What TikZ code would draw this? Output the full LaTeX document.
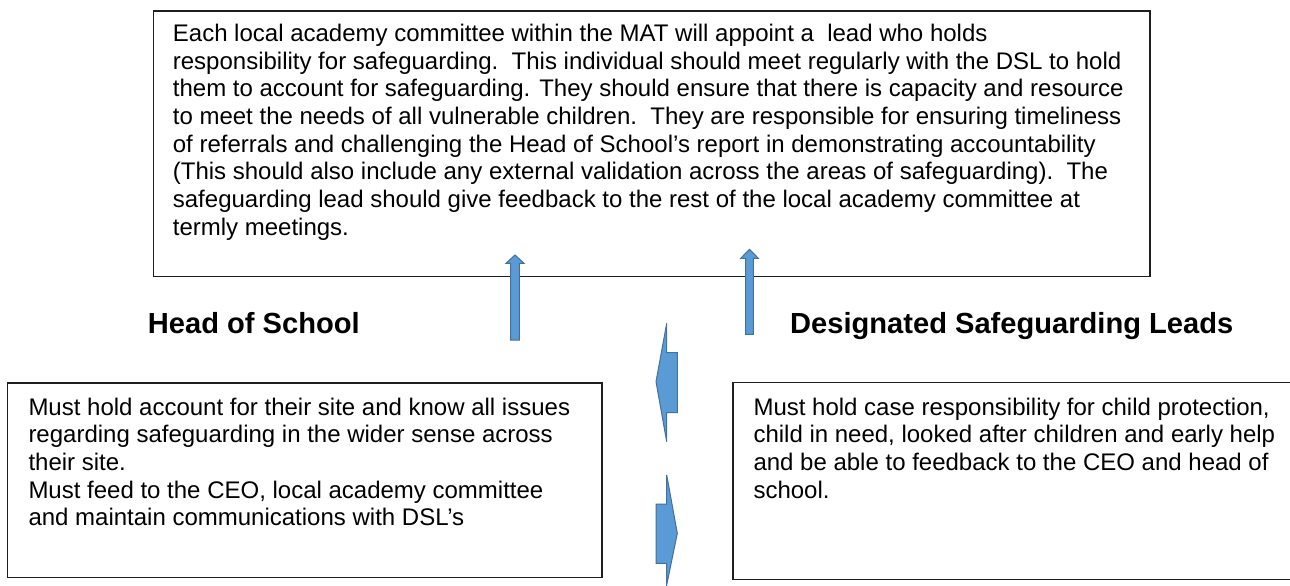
\documentclass[tikz,border=0pt]{standalone}
\usepackage{fontspec}
\setmainfont{Liberation Sans}
\definecolor{arrowfill}{RGB}{91,155,213}
\definecolor{arrowedge}{RGB}{65,113,156}
\definecolor{boxedge}{RGB}{30,30,30}
\tikzset{
  box/.style={draw=boxedge, line width=1.6pt, fill=white, inner sep=0pt},
  bodytext/.style={anchor=north west, inner sep=0pt, align=left, font=\fontsize{24}{27.65}\selectfont},
  headtext/.style={anchor=base west, inner sep=0pt, font=\fontsize{29.1}{33}\selectfont\bfseries},
  blockarrow/.style={fill=arrowfill, draw=arrowedge, line width=1pt, line join=miter}
}
\begin{document}
\begin{tikzpicture}[x=1pt,y=-1pt]
\useasboundingbox (0,0) rectangle (1290,586);
\fill[white] (0,0) rectangle (1290,586);
% boxes
\node[box, minimum width=996.7pt, minimum height=265.5pt] (topbox) at (651.7,143.75) {};
\node[box, minimum width=594.4pt, minimum height=194.6pt] (hosbox) at (304.5,480) {};
\node[box, minimum width=559.3pt, minimum height=197pt] (dslbox) at (1012.35,480.8) {};
% texts
\node[bodytext] (toptext) at (172.7,41.3-19.36) {\strut Each local academy committee within the MAT will appoint a\ \ lead who holds\\
responsibility for safeguarding.\ \ This individual should meet regularly with the DSL to hold\\
them to account for safeguarding. They should ensure that there is capacity and resource\\
to meet the needs of all vulnerable children.\ \ They are responsible for ensuring timeliness\\
of referrals and challenging the Head of School’s report in demonstrating accountability\\
(This should also include any external validation across the areas of safeguarding).\ \ The\\
safeguarding lead should give feedback to the rest of the local academy committee at\\
termly meetings.};
\node[bodytext] (hostext) at (28.3,415-19.36) {\strut Must hold account for their site and know all issues\\
regarding safeguarding in the wider sense across\\
their site.\\
Must feed to the CEO, local academy committee\\
and maintain communications with DSL’s};
\node[bodytext] (dsltext) at (753.3,415-19.36) {\strut Must hold case responsibility for child protection,\\
child in need, looked after children and early help\\
and be able to feedback to the CEO and head of\\
school.};
\node[headtext] (hoshead) at (147.7,333.2) {Head of School};
\node[headtext] (dslhead) at (790,333.2) {Designated Safeguarding Leads};
% up arrows
\draw[blockarrow] (510.7,340) -- (510.7,263.3) -- (506,263.3) -- (515,255) -- (524,263.3) -- (519.3,263.3) -- (519.3,340) -- cycle;
\draw[blockarrow] (745.7,334.3) -- (745.7,258.3) -- (740.7,258.3) -- (749.5,249.3) -- (758.3,258.3) -- (753.3,258.3) -- (753.3,334.3) -- cycle;
% left-pointing arrow
\draw[blockarrow] (666.7,323.3) -- (656,381.7) -- (666.7,441.7) -- (666.7,412.7) -- (677.3,412.7) -- (677.3,352.7) -- (666.7,352.7) -- cycle;
% right-pointing arrow
\draw[blockarrow] (666.7,475) -- (677.3,533.3) -- (666.7,585) -- (666.7,563.3) -- (656,563.3) -- (656,504) -- (666.7,504) -- cycle;
\end{tikzpicture}
\end{document}
